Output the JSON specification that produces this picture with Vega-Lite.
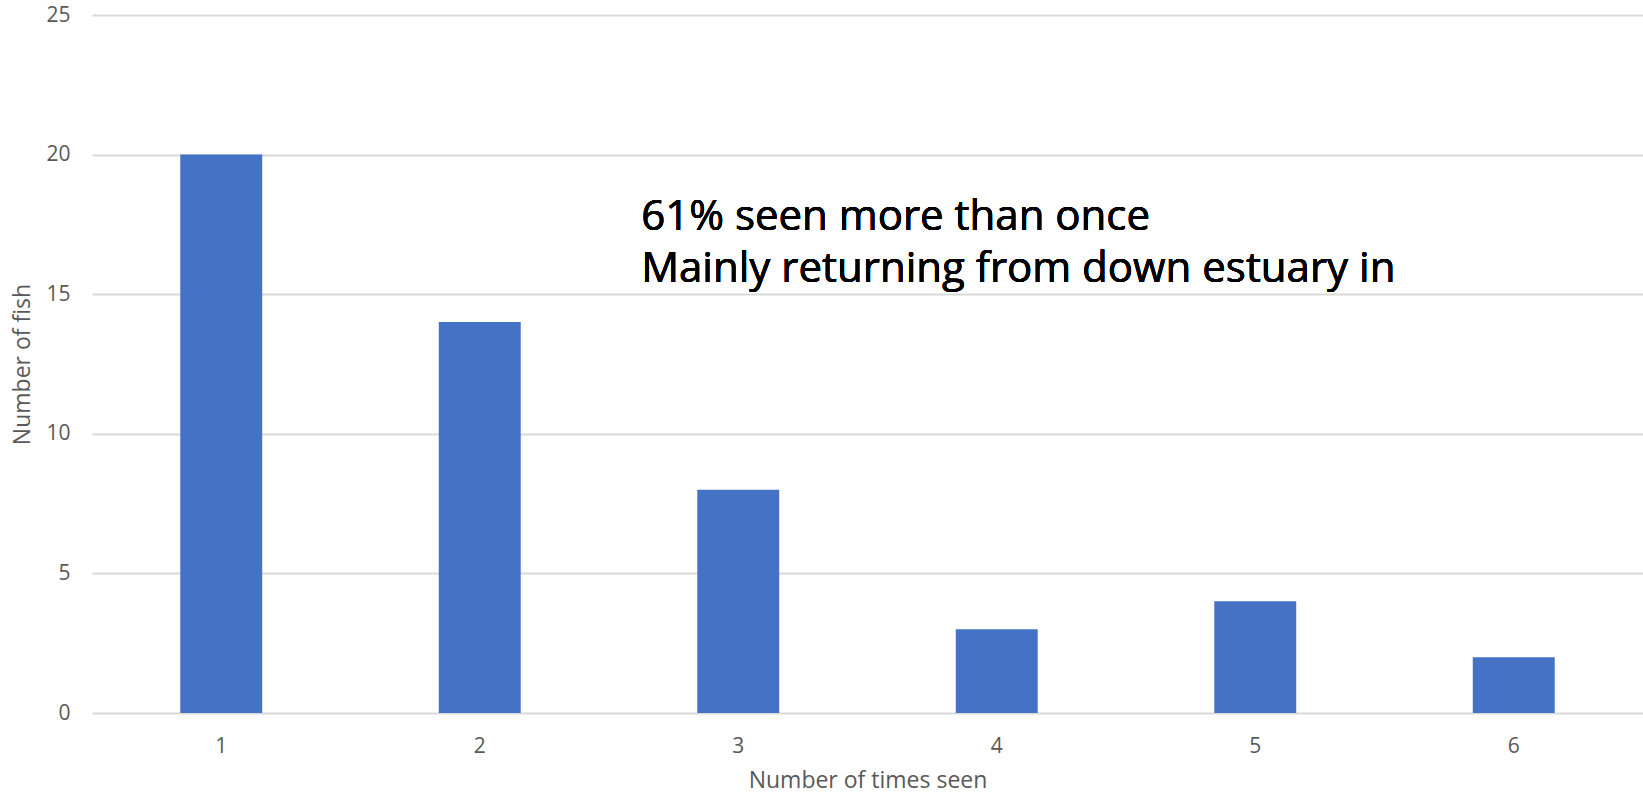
{
  "$schema": "https://vega.github.io/schema/vega-lite/v6.json",
  "width": 1551,
  "height": 698,
  "autosize": {"type": "none"},
  "padding": {"left": 92, "top": 15, "right": 0, "bottom": 82},
  "background": "white",
  "config": {
    "view": {"stroke": null},
    "font": "Open Sans",
    "axis": {
      "labelFont": "Open Sans",
      "titleFont": "Open Sans",
      "labelColor": "#595959",
      "titleColor": "#595959",
      "labelFontSize": 21,
      "titleFontSize": 23,
      "titleFontWeight": "normal",
      "ticks": false,
      "domain": false
    }
  },
  "data": {
    "values": [
      {"times_seen": 1, "fish": 20},
      {"times_seen": 2, "fish": 14},
      {"times_seen": 3, "fish": 8},
      {"times_seen": 4, "fish": 3},
      {"times_seen": 5, "fish": 4},
      {"times_seen": 6, "fish": 2}
    ]
  },
  "encoding": {
    "x": {
      "field": "times_seen",
      "type": "ordinal",
      "title": "Number of times seen",
      "scale": {"paddingInner": 0.683, "paddingOuter": 0.3415},
      "axis": {
        "labelAngle": 0,
        "labelPadding": 22,
        "grid": false,
        "titleY": 74,
        "titleBaseline": "alphabetic"
      }
    },
    "y": {
      "field": "fish",
      "type": "quantitative",
      "title": "Number of fish",
      "scale": {"domain": [0, 25], "nice": false},
      "axis": {
        "values": [0, 5, 10, 15, 20, 25],
        "labelPadding": 22,
        "grid": true,
        "gridColor": "#d9d9d9",
        "gridWidth": 2,
        "titleX": -70,
        "titleY": 349,
        "titleAngle": -90,
        "titleAlign": "center",
        "titleBaseline": "middle"
      }
    }
  },
  "layer": [
    {
      "mark": {"type": "bar", "color": "#4472C4"}
    },
    {
      "mark": {
        "type": "text",
        "text": ["61% seen more than once", "Mainly returning from down estuary in"],
        "font": "Open Sans",
        "fontSize": 42,
        "lineHeight": 52,
        "align": "left",
        "baseline": "alphabetic",
        "color": "black",
        "dx": -97
      },
      "encoding": {
        "x": {"datum": 3},
        "y": {"datum": 17.3}
      }
    }
  ]
}
